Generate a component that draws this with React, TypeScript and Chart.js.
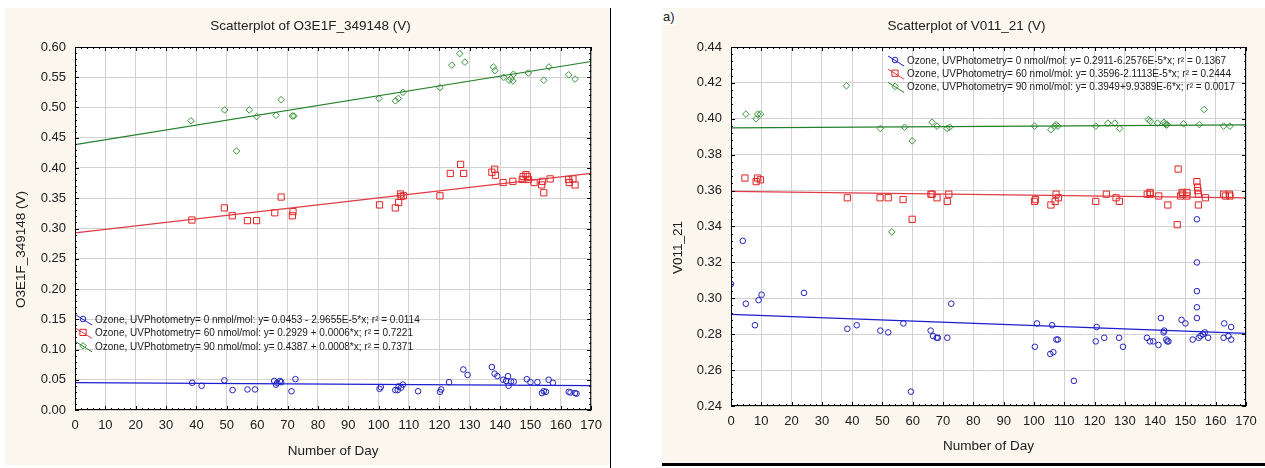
import React, { useEffect, useRef } from "react";
import { Chart, registerables } from "chart.js";

Chart.register(...registerables);

const FONT = '"Liberation Sans", Arial, Helvetica, sans-serif';
const BG = "#fbf7ee";
const TEXT = "#202020";
const GRID = "#d2d2d2";

const BLUE = "#2323c0";
const BLUE_LINE = "#1c1cd0";
const RED = "#e02424";
const RED_LINE = "#e03a44";
const GREEN = "#3a963a";
const GREEN_LINE = "#24802a";

// x range of all fitted lines (days)
const fitDays = [0, 170];
const xTickLabels = [0, 10, 20, 30, 40, 50, 60, 70, 80, 90, 100, 110, 120, 130, 140, 150, 160, 170];

// ---------------- Left chart: O3E1F_349148 ----------------
const leftTitle = "Scatterplot of O3E1F_349148 (V)";
const leftYTitle = "O3E1F_349148 (V)";
const leftYTicks = [0, 0.05, 0.1, 0.15, 0.2, 0.25, 0.3, 0.35, 0.4, 0.45, 0.5, 0.55, 0.6];
const leftLegend = [
  "Ozone, UVPhotometry= 0 nmol/mol: y= 0.0453 - 2.9655E-5*x; r² = 0.0114",
  "Ozone, UVPhotometry= 60 nmol/mol: y= 0.2929 + 0.0006*x; r² = 0.7221",
  "Ozone, UVPhotometry= 90 nmol/mol: y= 0.4387 + 0.0008*x; r² = 0.7371",
];

const left0Days = [38.6, 41.7, 49.2, 51.9, 56.8, 59.3, 65.6, 66.2, 66.6, 67.5, 67.9, 71.3, 72.6, 100.3, 100.7, 105.5, 106.3, 106.6, 107.4, 108.0, 113.0, 120.2, 120.6, 123.2, 127.9, 129.3, 137.3, 138.2, 139.1, 141.0, 142.0, 142.6, 142.8, 143.6, 144.5, 148.8, 150.0, 152.3, 153.8, 154.4, 155.1, 156.0, 157.4, 162.6, 163.2, 164.7, 165.2];
const left0Vals = [0.045, 0.040, 0.049, 0.033, 0.034, 0.034, 0.048, 0.042, 0.045, 0.048, 0.046, 0.031, 0.051, 0.035, 0.038, 0.033, 0.033, 0.039, 0.037, 0.042, 0.031, 0.030, 0.034, 0.046, 0.067, 0.058, 0.071, 0.060, 0.056, 0.050, 0.048, 0.056, 0.040, 0.047, 0.047, 0.051, 0.046, 0.046, 0.028, 0.031, 0.030, 0.050, 0.045, 0.030, 0.029, 0.028, 0.027];
const left0Fit = [0.0453, 0.0403];

const left60Days = [38.5, 49.2, 51.8, 56.8, 59.8, 65.8, 67.9, 71.6, 71.8, 100.3, 105.5, 106.6, 107.2, 107.4, 108.2, 120.2, 123.6, 127.0, 128.0, 137.3, 138.2, 138.5, 141.0, 144.2, 147.3, 147.6, 148.5, 149.0, 149.3, 151.2, 153.7, 154.0, 154.4, 156.5, 162.6, 162.8, 164.0, 164.7];
const left60Vals = [0.314, 0.334, 0.321, 0.313, 0.313, 0.326, 0.352, 0.321, 0.328, 0.339, 0.334, 0.343, 0.357, 0.353, 0.354, 0.354, 0.391, 0.406, 0.391, 0.393, 0.398, 0.388, 0.376, 0.378, 0.381, 0.386, 0.389, 0.386, 0.381, 0.376, 0.372, 0.378, 0.359, 0.382, 0.381, 0.376, 0.382, 0.372];
const left60Fit = [0.2929, 0.391];

const left90Days = [38.2, 49.3, 53.2, 57.4, 59.8, 66.2, 67.9, 71.6, 72.1, 100.1, 105.5, 106.5, 108.0, 120.2, 124.1, 126.7, 128.4, 137.8, 138.3, 141.2, 143.0, 143.6, 144.2, 144.4, 149.3, 154.4, 156.1, 162.6, 164.7];
const left90Vals = [0.478, 0.496, 0.428, 0.496, 0.485, 0.487, 0.513, 0.486, 0.486, 0.515, 0.511, 0.515, 0.525, 0.533, 0.570, 0.589, 0.575, 0.567, 0.561, 0.550, 0.545, 0.548, 0.544, 0.555, 0.557, 0.545, 0.567, 0.554, 0.547];
const left90Fit = [0.4387, 0.576];

// ---------------- Right chart: V011_21 ----------------
const rightTitle = "Scatterplot of V011_21 (V)";
const rightYTitle = "V011_21";
const rightYTicks = [0.24, 0.26, 0.28, 0.3, 0.32, 0.34, 0.36, 0.38, 0.4, 0.42, 0.44];
const rightLegend = [
  "Ozone, UVPhotometry= 0 nmol/mol: y= 0.2911-6.2576E-5*x; r² = 0.1367",
  "Ozone, UVPhotometry= 60 nmol/mol: y= 0.3596-2.1113E-5*x; r² = 0.2444",
  "Ozone, UVPhotometry= 90 nmol/mol: y= 0.3949+9.9389E-6*x; r² = 0.0017",
];

const right0Days = [0.0, 3.9, 4.9, 7.9, 9.1, 10.1, 24.1, 38.4, 41.5, 49.3, 51.9, 56.9, 59.4, 65.9, 66.7, 67.9, 68.3, 71.4, 72.7, 100.3, 101.0, 105.4, 106.0, 106.4, 107.4, 107.9, 113.2, 120.4, 120.7, 123.2, 128.1, 129.4, 137.3, 138.3, 139.4, 141.1, 141.9, 142.8, 143.0, 143.7, 144.0, 144.4, 148.7, 150.0, 152.4, 153.8, 153.8, 153.8, 153.8, 153.8, 154.4, 155.0, 155.8, 156.4, 157.5, 162.6, 162.8, 164.2, 165.1, 165.1];
const right0Vals = [0.308, 0.332, 0.297, 0.285, 0.299, 0.302, 0.303, 0.283, 0.285, 0.282, 0.281, 0.286, 0.248, 0.282, 0.279, 0.278, 0.278, 0.278, 0.297, 0.273, 0.286, 0.269, 0.285, 0.270, 0.277, 0.277, 0.254, 0.276, 0.284, 0.278, 0.278, 0.273, 0.278, 0.276, 0.276, 0.274, 0.289, 0.281, 0.282, 0.277, 0.276, 0.276, 0.288, 0.286, 0.277, 0.344, 0.320, 0.304, 0.295, 0.289, 0.278, 0.279, 0.280, 0.281, 0.278, 0.278, 0.286, 0.279, 0.284, 0.277];
const right0Fit = [0.2911, 0.2805];

const right60Days = [4.6, 8.3, 8.8, 9.7, 38.4, 49.2, 51.9, 56.8, 59.8, 66.0, 66.4, 68.0, 71.4, 71.9, 100.2, 100.5, 105.6, 107.0, 107.3, 108.1, 120.4, 123.9, 127.1, 128.2, 137.4, 138.3, 138.4, 141.2, 144.2, 147.3, 147.6, 148.4, 148.9, 149.1, 150.5, 150.5, 153.8, 154.0, 154.1, 154.3, 154.3, 156.6, 162.6, 163.2, 164.5, 164.7];
const right60Vals = [0.367, 0.365, 0.367, 0.366, 0.356, 0.356, 0.356, 0.355, 0.344, 0.358, 0.358, 0.356, 0.354, 0.358, 0.354, 0.355, 0.352, 0.354, 0.358, 0.356, 0.354, 0.358, 0.356, 0.354, 0.358, 0.359, 0.358, 0.357, 0.352, 0.341, 0.372, 0.357, 0.359, 0.358, 0.359, 0.357, 0.365, 0.362, 0.360, 0.358, 0.352, 0.356, 0.358, 0.357, 0.358, 0.357];
const right60Fit = [0.3596, 0.356];

const right90Days = [4.9, 8.3, 8.8, 9.7, 38.1, 49.3, 53.1, 57.3, 59.8, 66.4, 68.0, 71.3, 72.2, 100.2, 105.6, 106.9, 107.3, 107.9, 120.4, 124.4, 126.7, 128.3, 137.8, 138.4, 140.8, 142.9, 143.3, 143.7, 144.0, 149.4, 154.6, 156.2, 162.6, 164.7];
const right90Vals = [0.4026, 0.400, 0.4026, 0.4026, 0.4184, 0.3946, 0.337, 0.3953, 0.3877, 0.3981, 0.3959, 0.3946, 0.3953, 0.3959, 0.3939, 0.3959, 0.3968, 0.3959, 0.3959, 0.3976, 0.3976, 0.3946, 0.3996, 0.3987, 0.3976, 0.3981, 0.3972, 0.3965, 0.3968, 0.3972, 0.3968, 0.4052, 0.3959, 0.3959];
const right90Fit = [0.3949, 0.3966];

// ---------------- helpers ----------------
type Marker = "circle" | "rect" | "rectRot";
type Series = { days: number[]; vals: number[]; fit: number[]; color: string; lineColor: string; marker: Marker; radius: number };

const pts = (xs: number[], ys: number[]) => xs.map((x, i) => ({ x, y: ys[i] }));

function drawMarker(ctx: CanvasRenderingContext2D, m: Marker, x: number, y: number, r: number) {
  ctx.beginPath();
  if (m === "circle") ctx.arc(x, y, r, 0, Math.PI * 2);
  else if (m === "rect") {
    const s = r * Math.SQRT1_2;
    ctx.rect(x - s, y - s, 2 * s, 2 * s);
  } else {
    ctx.moveTo(x, y - r);
    ctx.lineTo(x + r, y);
    ctx.lineTo(x, y + r);
    ctx.lineTo(x - r, y);
    ctx.closePath();
  }
  ctx.stroke();
}

type PanelCfg = {
  left: number;
  top: number;
  w: number;
  h: number;
  yAxisWidth: number;
  padRight: number;
  padBottom: number;
  title: string;
  yTitle: string;
  yTicks: number[];
  legend: string[];
  series: Series[];
  legendDx: number;
  legendTop: number;
  legendStep: number;
  xTitleGap: number;
};

function Panel({ cfg }: { cfg: PanelCfg }) {
  const ref = useRef<HTMLCanvasElement>(null);
  useEffect(() => {
    const yMin = cfg.yTicks[0];
    const yMax = cfg.yTicks[cfg.yTicks.length - 1];
    const yStep = cfg.yTicks[1] - cfg.yTicks[0];
    const datasets: any[] = [];
    cfg.series.forEach((s) => {
      datasets.push({
        data: pts(fitDays, s.fit),
        showLine: true,
        borderColor: s.lineColor,
        borderWidth: 1.2,
        pointRadius: 0,
        fill: false,
      });
    });
    cfg.series.forEach((s) => {
      datasets.push({
        data: pts(s.days, s.vals),
        showLine: false,
        pointStyle: s.marker,
        pointRadius: s.radius,
        pointBorderWidth: 1,
        pointBorderColor: s.color,
        pointBackgroundColor: "rgba(0,0,0,0)",
      });
    });

    const decor = {
      id: "decor",
      beforeDraw(chart: any) {
        const { ctx, chartArea: a } = chart;
        ctx.save();
        ctx.fillStyle = "#ffffff";
        ctx.fillRect(a.left, a.top, a.right - a.left, a.bottom - a.top);
        ctx.restore();
      },
      afterDraw(chart: any) {
        const { ctx, chartArea: a, scales } = chart;
        const xs = scales.x;
        const ys = scales.y;
        ctx.save();
        // inner tick marks
        ctx.strokeStyle = "#000";
        ctx.lineWidth = 1;
        ctx.beginPath();
        for (let i = 0; i <= 85; i++) {
          const v = i * 2;
          const px = Math.round(xs.getPixelForValue(v)) + 0.5;
          const len = i % 5 === 0 ? 4 : 2;
          ctx.moveTo(px, a.bottom);
          ctx.lineTo(px, a.bottom - len);
          ctx.moveTo(px, a.top);
          ctx.lineTo(px, a.top + len);
        }
        const nMinor = Math.round((yMax - yMin) / (yStep / 5));
        for (let i = 0; i <= nMinor; i++) {
          const v = yMin + (i * yStep) / 5;
          const py = Math.round(ys.getPixelForValue(v)) + 0.5;
          const len = i % 5 === 0 ? 4 : 2;
          ctx.moveTo(a.left, py);
          ctx.lineTo(a.left + len, py);
          ctx.moveTo(a.right, py);
          ctx.lineTo(a.right - len, py);
        }
        ctx.stroke();
        // frame
        ctx.strokeRect(a.left + 0.5, a.top + 0.5, a.right - a.left - 1, a.bottom - a.top - 1);

        // titles
        ctx.fillStyle = TEXT;
        ctx.textBaseline = "middle";
        ctx.textAlign = "center";
        ctx.font = `13.5px ${FONT}`;
        ctx.fillText(cfg.title, chart.width / 2 + 3, 18);
        ctx.fillText("Number of Day", (a.left + a.right) / 2, a.bottom + cfg.xTitleGap);
        ctx.save();
        ctx.translate(16, (a.top + a.bottom) / 2 + 21);
        ctx.rotate(-Math.PI / 2);
        ctx.fillText(cfg.yTitle, 0, 0);
        ctx.restore();

        // legend
        ctx.font = `10px ${FONT}`;
        ctx.textAlign = "left";
        cfg.series.forEach((s, i) => {
          const y = a.top + cfg.legendTop + i * cfg.legendStep;
          const x0 = a.left + cfg.legendDx;
          ctx.strokeStyle = s.lineColor;
          ctx.lineWidth = 1;
          ctx.beginPath();
          ctx.moveTo(x0, y - 5);
          ctx.lineTo(x0 + 16, y + 5);
          ctx.stroke();
          ctx.strokeStyle = s.color;
          drawMarker(ctx, s.marker, x0 + 7, y - 1, s.radius);
          ctx.fillStyle = TEXT;
          ctx.fillText(cfg.legend[i], x0 + 19, y);
        });
        ctx.restore();
      },
    };

    const tickFont = { family: FONT, size: 13 };
    const chart = new Chart(ref.current as HTMLCanvasElement, {
      type: "scatter",
      data: { datasets },
      options: {
        animation: false,
        responsive: false,
        maintainAspectRatio: false,
        events: [],
        layout: { padding: { left: 0, right: cfg.padRight, top: 39, bottom: cfg.padBottom } },
        plugins: { legend: { display: false }, tooltip: { enabled: false }, title: { display: false } },
        scales: {
          x: {
            type: "linear",
            min: fitDays[0],
            max: fitDays[1],
            afterFit: (s: any) => {
              s.height = 20;
            },
            afterBuildTicks: (s: any) => {
              s.ticks = xTickLabels.map((v) => ({ value: v }));
            },
            ticks: { padding: 8, font: tickFont, color: TEXT, maxRotation: 0, autoSkip: false, callback: (v: any) => String(v) },
            grid: { color: GRID, drawTicks: false, lineWidth: 1 },
            border: { display: false },
          },
          y: {
            type: "linear",
            min: yMin,
            max: yMax,
            afterFit: (s: any) => {
              s.width = cfg.yAxisWidth;
            },
            afterBuildTicks: (s: any) => {
              s.ticks = cfg.yTicks.map((v) => ({ value: v }));
            },
            ticks: { padding: 9, font: tickFont, color: TEXT, autoSkip: false, callback: (v: any) => Number(v).toFixed(2) },
            grid: { color: GRID, drawTicks: false, lineWidth: 1 },
            border: { display: false },
          },
        },
      },
      plugins: [decor],
    } as any);
    return () => chart.destroy();
  }, [cfg]);
  return (
    <canvas
      ref={ref}
      width={cfg.w}
      height={cfg.h}
      style={{ position: "absolute", left: cfg.left, top: cfg.top, width: cfg.w, height: cfg.h, background: BG, display: "block" }}
    />
  );
}

const leftCfg: PanelCfg = {
  left: 5,
  top: 8,
  w: 605,
  h: 457,
  yAxisWidth: 70,
  padRight: 13,
  padBottom: 35,
  title: leftTitle,
  yTitle: leftYTitle,
  yTicks: leftYTicks,
  legend: leftLegend,
  series: [
    { days: left0Days, vals: left0Vals, fit: left0Fit, color: BLUE, lineColor: BLUE_LINE, marker: "circle", radius: 2.8 },
    { days: left60Days, vals: left60Vals, fit: left60Fit, color: RED, lineColor: RED_LINE, marker: "rect", radius: 4.4 },
    { days: left90Days, vals: left90Vals, fit: left90Fit, color: GREEN, lineColor: GREEN_LINE, marker: "rectRot", radius: 3.3 },
  ],
  legendDx: 1,
  legendTop: 273,
  legendStep: 13.4,
  xTitleGap: 41,
};

const rightCfg: PanelCfg = {
  left: 662,
  top: 8,
  w: 603,
  h: 455,
  yAxisWidth: 69,
  padRight: 19,
  padBottom: 37,
  title: rightTitle,
  yTitle: rightYTitle,
  yTicks: rightYTicks,
  legend: rightLegend,
  series: [
    { days: right0Days, vals: right0Vals, fit: right0Fit, color: BLUE, lineColor: BLUE_LINE, marker: "circle", radius: 2.8 },
    { days: right60Days, vals: right60Vals, fit: right60Fit, color: RED, lineColor: RED_LINE, marker: "rect", radius: 4.4 },
    { days: right90Days, vals: right90Vals, fit: right90Fit, color: GREEN, lineColor: GREEN_LINE, marker: "rectRot", radius: 3.3 },
  ],
  legendDx: 157,
  legendTop: 14,
  legendStep: 13.2,
  xTitleGap: 40,
};

export default function App() {
  return (
    <div style={{ position: "fixed", left: 0, top: 0, width: 1265, height: 468, background: "#ffffff", overflow: "hidden" }}>
      <Panel cfg={leftCfg} />
      <div style={{ position: "absolute", left: 610, top: 8, width: 1, height: 460, background: "#000" }} />
      <Panel cfg={rightCfg} />
      <div style={{ position: "absolute", left: 663, top: 9, font: `13px ${FONT}`, color: TEXT, background: "#fff", lineHeight: "16px" }}>a)</div>
      <div style={{ position: "absolute", left: 662, top: 463, width: 603, height: 3, background: "#000" }} />
    </div>
  );
}
